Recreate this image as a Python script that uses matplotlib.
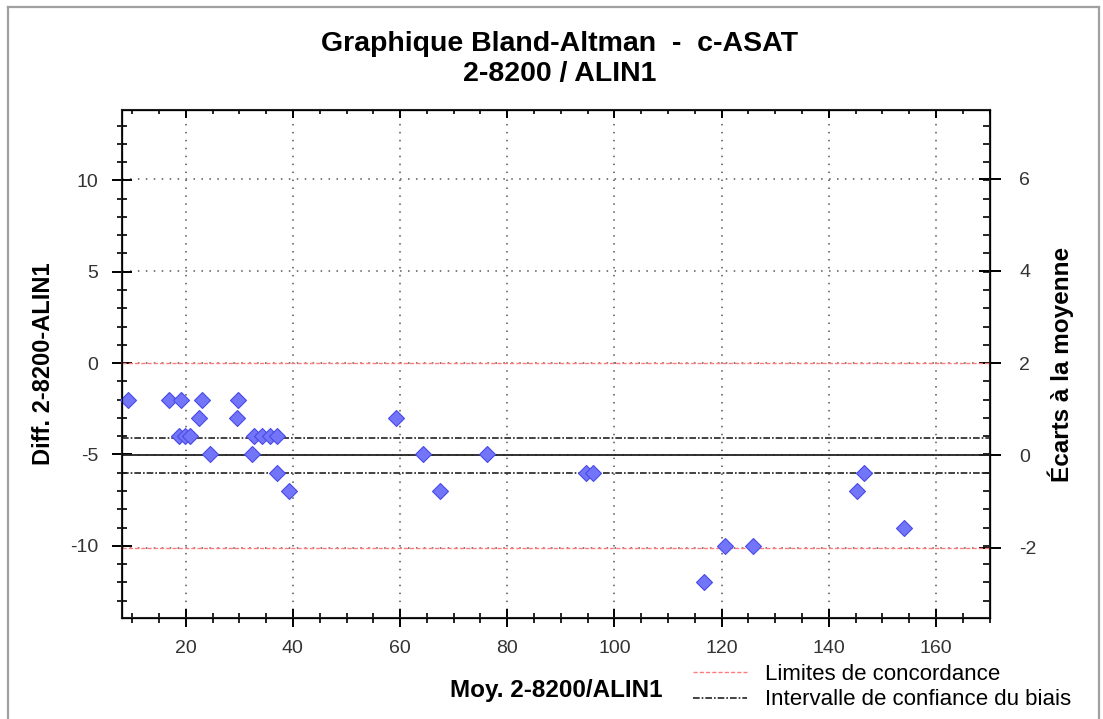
import matplotlib
matplotlib.use("Agg")
import matplotlib.pyplot as plt
from matplotlib.ticker import MultipleLocator, FixedLocator
from matplotlib.lines import Line2D

plt.rcParams['font.family'] = ['Liberation Sans', 'DejaVu Sans']
plt.rcParams['axes.unicode_minus'] = False

# --- données ---
moyenne = [9.2, 16.8, 19.1, 23.0, 29.7,
           22.4, 29.5, 59.2,
           18.7, 19.8, 20.8, 32.8, 34.3, 35.8, 37.1,
           24.6, 32.4, 64.2, 76.3,
           37.1, 94.7, 96.0, 146.5,
           39.3, 67.4, 145.3,
           154.1,
           120.7, 125.8,
           116.8]
difference = [-2, -2, -2, -2, -2,
              -3, -3, -3,
              -4, -4, -4, -4, -4, -4, -4,
              -5, -5, -5, -5,
              -6, -6, -6, -6,
              -7, -7, -7,
              -9,
              -10, -10,
              -12]

biais = -5.05
ecart_type = 2.525
ic_biais = [-4.1, -6.0]
limites = [biais + 2 * ecart_type, biais - 2 * ecart_type]

x_lim = (8.1, 170.1)
y_lim = (-13.95, 13.85)

tick_color = '#333333'

fig = plt.figure(figsize=(11.03, 7.19), dpi=100)
ax = fig.add_axes([0.1106, 0.1405, 0.7870, 0.7065])

# lignes horizontales
for v in limites:
    ax.axhline(v, color='#ff7b7b', lw=1.0, ls=(0, (3, 1.5)), zorder=2)
for v in ic_biais:
    ax.axhline(v, color='#222222', lw=1.2, ls=(0, (4, 1.2, 1, 1.2)), zorder=2)
ax.axhline(biais, color='#222222', lw=1.3, zorder=2)

ax.plot(moyenne, difference, ls='none', marker='D', ms=8.5,
        mfc='#7275f8', mec='#4a4ae8', mew=0.8, zorder=5, clip_on=False)

ax.set_xlim(*x_lim)
ax.set_ylim(*y_lim)
ax.xaxis.set_major_locator(MultipleLocator(20))
ax.xaxis.set_minor_locator(MultipleLocator(5))
ax.yaxis.set_major_locator(MultipleLocator(5))
ax.yaxis.set_minor_locator(MultipleLocator(1))

grid_style = dict(color='#555555', lw=1.1, ls=(0, (1, 4.2)))
ax.grid(axis='x', which='major', **grid_style)

ax.tick_params(axis='x', which='major', direction='inout', length=13, width=1.4,
               labelsize=14, labelcolor=tick_color, pad=9)
ax.tick_params(axis='x', which='minor', direction='inout', length=7, width=1.2)
ax.tick_params(axis='y', which='major', direction='inout', length=14, width=1.4,
               labelsize=14, labelcolor=tick_color, pad=10)
ax.tick_params(axis='y', which='minor', direction='inout', length=7, width=1.2)

for s in ax.spines.values():
    s.set_linewidth(1.5)
    s.set_color('#222222')

ax.set_xlabel('Moy. 2-8200/ALIN1', fontsize=17.5, fontweight='bold', labelpad=16)
ax.set_ylabel('Diff. 2-8200-ALIN1', fontsize=17, fontweight='bold', labelpad=11)

# axe du haut : graduations vers l'intérieur
axt = ax.twiny()
axt.set_xlim(*x_lim)
axt.xaxis.set_major_locator(MultipleLocator(20))
axt.xaxis.set_minor_locator(MultipleLocator(5))
axt.tick_params(axis='x', which='major', direction='in', length=6, width=1.4, labeltop=False)
axt.tick_params(axis='x', which='minor', direction='in', length=3, width=1.2)

# axe de droite : écarts à la moyenne (en écarts-types)
axr = ax.twinx()
axr.set_ylim((y_lim[0] - biais) / ecart_type, (y_lim[1] - biais) / ecart_type)
axr.yaxis.set_major_locator(MultipleLocator(2))
left_units = list(range(-13, 14))
axr.yaxis.set_minor_locator(FixedLocator([(v - biais) / ecart_type for v in left_units]))
axr.grid(axis='y', which='major', **grid_style)
axr.tick_params(axis='y', which='major', direction='inout', length=16, width=1.4,
                labelsize=14, labelcolor=tick_color, pad=13)
axr.tick_params(axis='y', which='minor', direction='in', length=5, width=1.2)
axr.set_ylabel('Écarts à la moyenne', fontsize=17.5, fontweight='bold', labelpad=8)
axr.set_zorder(ax.get_zorder() - 1)
ax.patch.set_visible(False)

fig.text(0.5075, 0.939, 'Graphique Bland-Altman  -  c-ASAT', ha='center', va='center',
         fontsize=20.5, fontweight='bold')
fig.text(0.5075, 0.897, '2-8200 / ALIN1', ha='center', va='center',
         fontsize=20.5, fontweight='bold')

# légende
handles = [Line2D([], [], color='#ff7b7b', lw=1.0, ls=(0, (3, 1.5))),
           Line2D([], [], color='#222222', lw=1.2, ls=(0, (4, 1.2, 1, 1.2)))]
labels = ['Limites de concordance', 'Intervalle de confiance du biais']
fig.legend(handles, labels, loc='center left', bbox_to_anchor=(0.618, 0.0445),
           bbox_transform=fig.transFigure, frameon=False, fontsize=16,
           handlelength=2.45, handletextpad=0.8, labelspacing=0.22, borderpad=0)

# cadre gris de la fenêtre
frame = dict(color='#a0a0a0', lw=1.6, transform=fig.transFigure)
fig.add_artist(Line2D([0.0073, 0.0073], [0.0, 0.9903], **frame))
fig.add_artist(Line2D([0.0073, 0.9964], [0.9903, 0.9903], **frame))
fig.add_artist(Line2D([0.9964, 0.9964], [0.0, 0.9903], **frame))

fig.savefig('out.png', dpi=100)
